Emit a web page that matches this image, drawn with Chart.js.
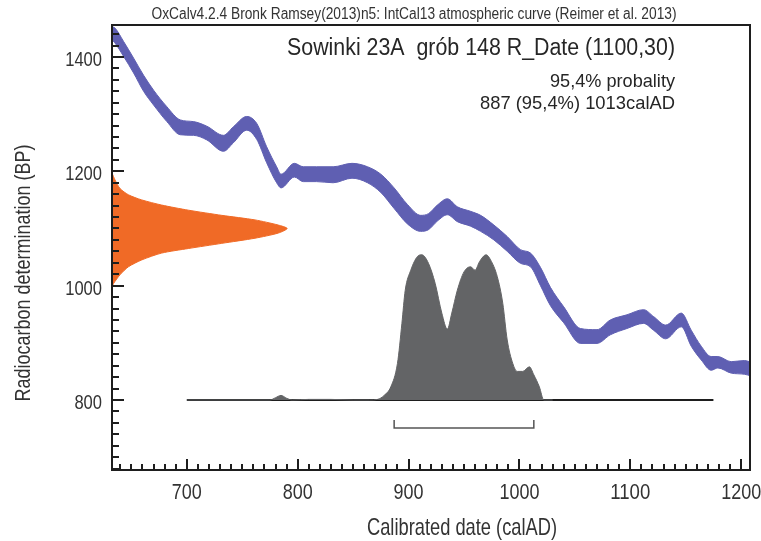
<!DOCTYPE html>
<html lang="en">
<head>
    <meta charset="UTF-8"/>
    <title>OxCal calibration - Sowinki 23A</title>
    <script src="https://cdn.jsdelivr.net/npm/chart.js"></script>
    <style>
        html, body {
            margin: 0;
            background: #fff;
        }

        #wrap {
            width: 761px;
            height: 541px;
        }
    </style>
</head>
<body>
<div id="wrap">
    <canvas id="calChart"></canvas>
</div>

<script>
    // IntCal13 curve: calendar year, centre BP, half band width BP
    const curveYears = [632, 635, 643, 652, 661, 670, 682, 694, 706, 718, 733, 742, 754, 763, 772, 781, 785, 797, 805, 817, 832, 849, 863, 875, 887, 899, 911, 918, 926, 935, 944, 956, 965, 977, 989, 1001, 1010, 1019, 1028, 1040, 1055, 1070, 1082, 1097, 1112, 1121, 1132, 1146, 1155, 1164, 1173, 1179, 1191, 1203, 1209];
    const curveBP = [1442, 1438, 1414, 1385, 1354, 1329, 1300, 1277, 1275, 1267, 1249, 1264, 1284, 1270, 1229, 1194, 1183, 1202, 1195, 1195, 1194, 1201, 1194, 1179, 1153, 1125, 1109, 1112, 1127, 1138, 1125, 1117, 1109, 1093, 1073, 1051, 1045, 1016, 981, 949, 912, 911, 927, 937, 946, 934, 919, 940, 908, 882, 864, 866, 857, 857, 854];
    const curveErr = [11, 13, 13, 13, 14, 13, 13, 13, 12, 12, 14, 14, 12, 14, 14, 14, 12, 12, 13, 13, 14, 13, 14, 16, 18, 17, 14, 14, 14, 14, 13, 13, 14, 13, 13, 12, 12, 16, 16, 14, 13, 12, 13, 12, 12, 12, 12, 12, 14, 12, 12, 10, 10, 12, 12];

    // measured radiocarbon date (1100 +/- 30), drawn as width in years from the left axis
    const dateBP = [1197, 1185, 1170, 1159, 1150, 1141, 1132, 1123, 1115, 1106, 1100, 1092, 1083, 1074, 1065, 1057, 1045, 1033, 1019, 1004, 998];
    const dateWidth = [0, 2.7, 7.2, 14.8, 26.8, 44.8, 69, 99, 129, 150, 158, 150, 129, 99, 69, 44.8, 26.8, 14.8, 7.2, 1.5, 0];

    // calibrated probability, in BP units above the 800 baseline
    const probYears = [700, 775, 780, 785, 790, 795, 810, 830, 850, 865, 872, 878, 884, 890, 894, 897, 902, 908, 912, 918, 924, 930, 935, 939, 944, 950, 956, 960, 964, 970, 974, 980, 985, 989, 994, 998, 1003, 1009, 1013, 1018, 1022, 1030];
    const probBP = [800, 800, 804, 808, 803, 800, 801, 801, 800, 800, 801, 808, 823, 864, 934, 992, 1027, 1051, 1054, 1039, 1004, 952, 924, 952, 992, 1024, 1033, 1027, 1042, 1054, 1045, 1016, 969, 905, 864, 850, 850, 858, 844, 823, 800, 800];

    const baseYears = [700, 1175];
    const rangeFrom = 887;
    const rangeTo = 1013;

    const xTickValues = [700, 800, 900, 1000, 1100, 1200];
    const yTickValues = [800, 1000, 1200, 1400];

    const xMin = 632.5, xMax = 1208;
    const yMin = 677.5, yMax = 1456;

    const FONT = "'Liberation Sans', Arial, sans-serif";
    const BLUE = '#5f5fb2';

    const bandHi = curveYears.map((yr, i) => ({x: yr, y: curveBP[i] + curveErr[i]}));
    const bandLo = curveYears.map((yr, i) => ({x: yr, y: curveBP[i] - curveErr[i]}));
    const datePts = dateBP.map((bp, i) => ({x: xMin + dateWidth[i], y: bp}));
    const probPts = probYears.map((yr, i) => ({x: yr, y: probBP[i]}));

    // the original lettering is a squeezed Arial: stretch each string to its measured width
    function say(ctx, str, x, y, size, align, width) {
        ctx.font = size + 'px ' + FONT;
        const sx = width ? width / ctx.measureText(str).width : 1;
        ctx.save();
        ctx.translate(x, y);
        ctx.scale(sx, 1);
        ctx.textAlign = align;
        ctx.fillText(str, 0, 0);
        ctx.restore();
    }

    // inner tick marks, frame and all the lettering
    const frame = {
        id: 'frame',
        afterDatasetsDraw(chart) {
            const {ctx, chartArea: a, scales: {x, y}} = chart;
            ctx.save();
            ctx.strokeStyle = '#1e1e1e';
            ctx.lineWidth = 2;
            ctx.strokeRect(a.left, a.top, a.right - a.left, a.bottom - a.top);

            ctx.beginPath();
            for (let v = 640; v <= xMax; v += 10) {
                const px = Math.round(x.getPixelForValue(v));
                const len = v % 100 === 0 ? 11 : 6;
                ctx.moveTo(px, a.bottom);
                ctx.lineTo(px, a.bottom - len);
            }
            for (let v = 680; v <= yMax; v += 20) {
                const py = Math.round(y.getPixelForValue(v));
                const len = v % 200 === 0 ? 12 : 7;
                ctx.moveTo(a.left, py);
                ctx.lineTo(a.left + len, py);
            }
            ctx.stroke();

            ctx.fillStyle = '#333';
            ctx.textBaseline = 'alphabetic';
            y.ticks.forEach(t => {
                const s = String(t.value);
                say(ctx, s, a.left - 10, y.getPixelForValue(t.value) + 9, 19.5, 'right', s.length * 9.2);
            });
            x.ticks.forEach(t => {
                const s = String(t.value);
                say(ctx, s, x.getPixelForValue(t.value), 499, 22, 'center', s.length * 10);
            });

            say(ctx, 'Calibrated date (calAD)', 462, 535, 24, 'center', 190);
            ctx.save();
            ctx.translate(30, 273);
            ctx.rotate(-Math.PI / 2);
            say(ctx, 'Radiocarbon determination (BP)', 0, 0, 22, 'center', 257);
            ctx.restore();

            say(ctx, 'OxCalv4.2.4 Bronk Ramsey(2013)n5: IntCal13 atmospheric curve (Reimer et al. 2013)', 414, 19, 16, 'center', 525);

            ctx.fillStyle = '#262626';
            say(ctx, 'Sowinki 23A  grób 148 R_Date (1100,30)', 675, 55, 23, 'right', 388);
            say(ctx, '95,4% probality', 675, 87, 19, 'right', 125);
            say(ctx, '887 (95,4%) 1013calAD', 675, 109, 19, 'right', 195);
            ctx.restore();
        }
    };

    new Chart(document.getElementById('calChart'), {
        type: 'line',
        data: {
            datasets: [{
                data: bandHi,
                borderColor: BLUE,
                borderWidth: 1,
                pointRadius: 0,
                cubicInterpolationMode: 'monotone',
                fill: false
            }, {
                data: bandLo,
                borderColor: BLUE,
                borderWidth: 1,
                backgroundColor: BLUE,
                pointRadius: 0,
                cubicInterpolationMode: 'monotone',
                fill: '-1'
            }, {
                data: datePts,
                borderColor: '#f06a26',
                borderWidth: 1,
                backgroundColor: '#f06a26',
                pointRadius: 0,
                tension: 0.25,
                fill: 'shape'
            }, {
                data: probPts,
                borderColor: '#636466',
                borderWidth: 1,
                backgroundColor: '#636466',
                pointRadius: 0,
                cubicInterpolationMode: 'monotone',
                fill: {value: 800}
            }, {
                data: baseYears.map(v => ({x: v, y: 800})),
                borderColor: '#1e1e1e',
                borderWidth: 2,
                pointRadius: 0,
                fill: false
            }, {
                data: [{x: rangeFrom, y: 765}, {x: rangeFrom, y: 751}, {x: rangeTo, y: 751}, {x: rangeTo, y: 765}],
                borderColor: '#555',
                borderWidth: 1.5,
                pointRadius: 0,
                fill: false
            }]
        },
        options: {
            responsive: true,
            maintainAspectRatio: false,
            animation: false,
            layout: {padding: {top: 25, right: 11, left: 0, bottom: 0}},
            plugins: {
                legend: {display: false},
                tooltip: {enabled: false}
            },
            scales: {
                x: {
                    type: 'linear',
                    min: xMin,
                    max: xMax,
                    ticks: {display: false},
                    grid: {display: false},
                    border: {display: false},
                    afterBuildTicks: s => { s.ticks = xTickValues.map(v => ({value: v})); },
                    afterFit: s => { s.height = 71; }
                },
                y: {
                    min: yMin,
                    max: yMax,
                    ticks: {display: false},
                    grid: {display: false},
                    border: {display: false},
                    afterBuildTicks: s => { s.ticks = yTickValues.map(v => ({value: v})); },
                    afterFit: s => { s.width = 112; }
                }
            }
        },
        plugins: [frame]
    });
</script>
</body>
</html>
